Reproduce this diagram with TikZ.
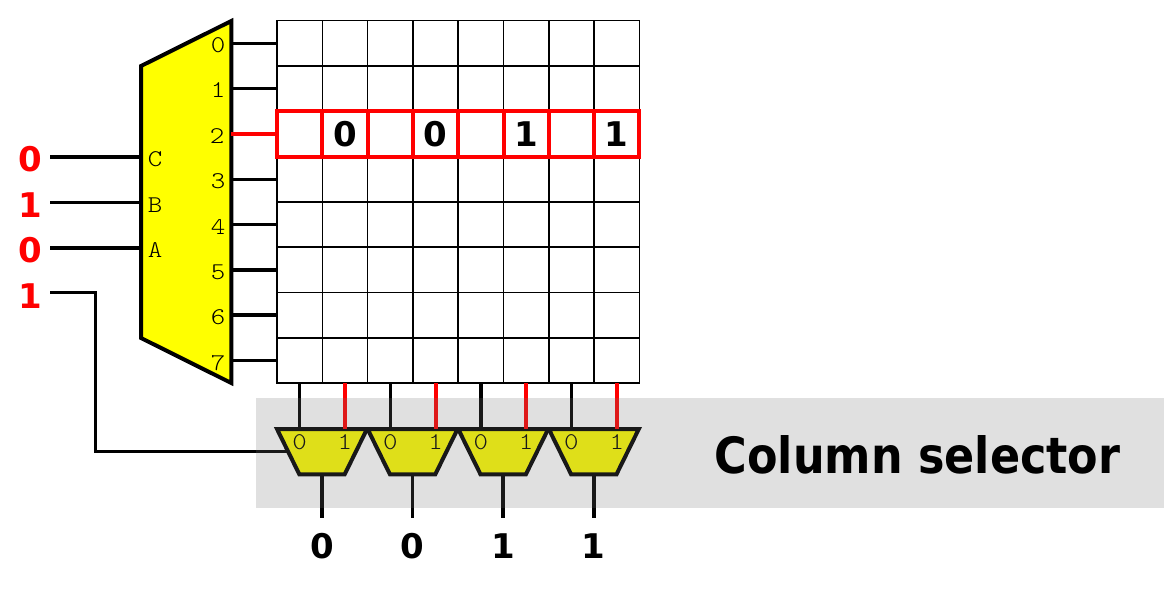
\documentclass[tikz,border=0pt]{standalone}
\usepackage{fontspec}
\usetikzlibrary{calc}
\setmainfont{DejaVu Sans}
\setmonofont[FakeStretch=1.15]{Latin Modern Mono Light}
\newfontfamily\titlefont[FakeStretch=0.89]{DejaVu Sans}
\definecolor{mem_red}{rgb}{1,0,0}
\definecolor{mem_yellow}{rgb}{1,1,0}
\definecolor{band_gray}{RGB}{116,116,116}
\tikzset{
        % Memory cells
        node_cell/.style={rectangle, draw=black, line width=1.5pt, fill=white, minimum width=45.3pt, minimum height=45.3pt, inner sep=0pt, outer sep=0pt},
        node_cell_selected/.style={node_cell, draw=mem_red, line width=4pt, fill=none},
        % Decoder and column multiplexers
        shape_block/.style={draw=black, line width=4pt, fill=mem_yellow},
        % Wires
        wire_black/.style={draw=black, line width=3.5pt},
        wire_red/.style={draw=mem_red, line width=4pt},
        % Texts
        label_big/.style={inner sep=0pt, font=\bfseries\fontsize{34}{34}\selectfont},
        label_pin/.style={inner sep=0pt, font=\ttfamily\fontsize{24}{24}\selectfont}
}
\begin{document}
\begin{tikzpicture}[x=1pt, y=-1pt]
    \useasboundingbox (0,0) rectangle (1174,600);

    % Memory array
    \foreach \r in {0,...,7} {
        \foreach \c in {0,...,7} {
            \node[node_cell] (cell_\r_\c) at ({299.65+45.3*\c},{43.35+45.3*\r}) {};
        }
    }
    \foreach \c in {0,...,7} {
        \node[node_cell_selected] (sel_\c) at (cell_2_\c) {};
    }

    % Row decoder
    \coordinate (dec_nw) at (141,66);
    \coordinate (dec_ne) at (231.3,21);
    \coordinate (dec_se) at (231.3,383);
    \coordinate (dec_sw) at (141,338);
    \draw[shape_block] (dec_nw) -- (dec_ne) -- (dec_se) -- (dec_sw) -- cycle;
    \foreach \r/\y in {0/45,1/90,3/181,4/227,5/272,6/317,7/363} {
        \draw[wire_black] (cell_\r_0.west) -- (cell_\r_0.west -| dec_ne);
        \node[label_pin] (pin_\r) at (218,\y) {\r};
    }
    \draw[wire_red] (sel_0.west) -- (sel_0.west -| dec_ne);
    \node[label_pin] (pin_2) at (217,136) {2};

    % Address inputs
    \foreach \n/\bit/\y/\letter/\ly in {c/0/157/C/159, b/1/202.5/B/205, a/0/248/A/250} {
        \node[label_big, text=mem_red] (addr_\n) at (30,\ly) {\bit};
        \coordinate (in_\n) at (50,\y);
        \draw[wire_black] (in_\n) -- (in_\n -| dec_nw);
        \node[label_pin] (pin_\n) at (155,\ly) {\letter};
    }

    % Column multiplexers
    \foreach \m/\c/\d/\bit in {0/0/1/0, 1/2/3/0, 2/4/5/1, 3/6/7/1} {
        \coordinate (mux_\m_nw) at ({277+90.6*\m},429);
        \coordinate (mux_\m_ne) at ({367+90.6*\m},429);
        \coordinate (mux_\m_se) at ({344.7+90.6*\m},474.3);
        \coordinate (mux_\m_sw) at ({299.3+90.6*\m},474.3);
        \coordinate (mux_\m_south) at ({322+90.6*\m},474.3);
        \coordinate (mux_\m_west) at ($(mux_\m_nw)!0.5!(mux_\m_sw)$);
        \draw[shape_block] (mux_\m_nw) -- (mux_\m_ne) -- (mux_\m_se) -- (mux_\m_sw) -- cycle;
        \draw[wire_black] (cell_7_\c.south) -- (cell_7_\c.south |- mux_\m_nw);
        \draw[wire_red] (cell_7_\d.south) -- (cell_7_\d.south |- mux_\m_nw);
        \node[label_pin] (mux_\m_in0) at (cell_7_\c |- 0,442) {0};
        \node[label_pin] (mux_\m_in1) at (cell_7_\d |- 0,442) {1};
        \coordinate (out_\m) at ({322+90.6*\m},518);
        \draw[wire_black] (mux_\m_south) -- (out_\m);
        \node[label_big] (res_\m) at ({322+90.6*\m},546) {\bit};
    }

    % Column select
    \node[label_big, text=mem_red] (addr_sel) at (30,296) {1};
    \coordinate (in_sel) at (50,292.7);
    \coordinate (bend_sel) at (95.3,292.7);
    \draw[wire_black, line join=miter] (in_sel) -- (bend_sel) |- (mux_0_west);

    % Stored bits of selected row
    \foreach \c/\bit in {1/0,3/0,5/1,7/1} {
        \node[label_big] (bit_\c) at (sel_\c) {\bit};
    }

    % Gray band
    \fill[band_gray, fill opacity=0.224] (256,397.7) rectangle (1164,507.7);
    \node[inner sep=0pt, font=\titlefont\bfseries\fontsize{50}{50}\selectfont] (band_title) at (917.5,455) {Column selector};
\end{tikzpicture}
\end{document}
